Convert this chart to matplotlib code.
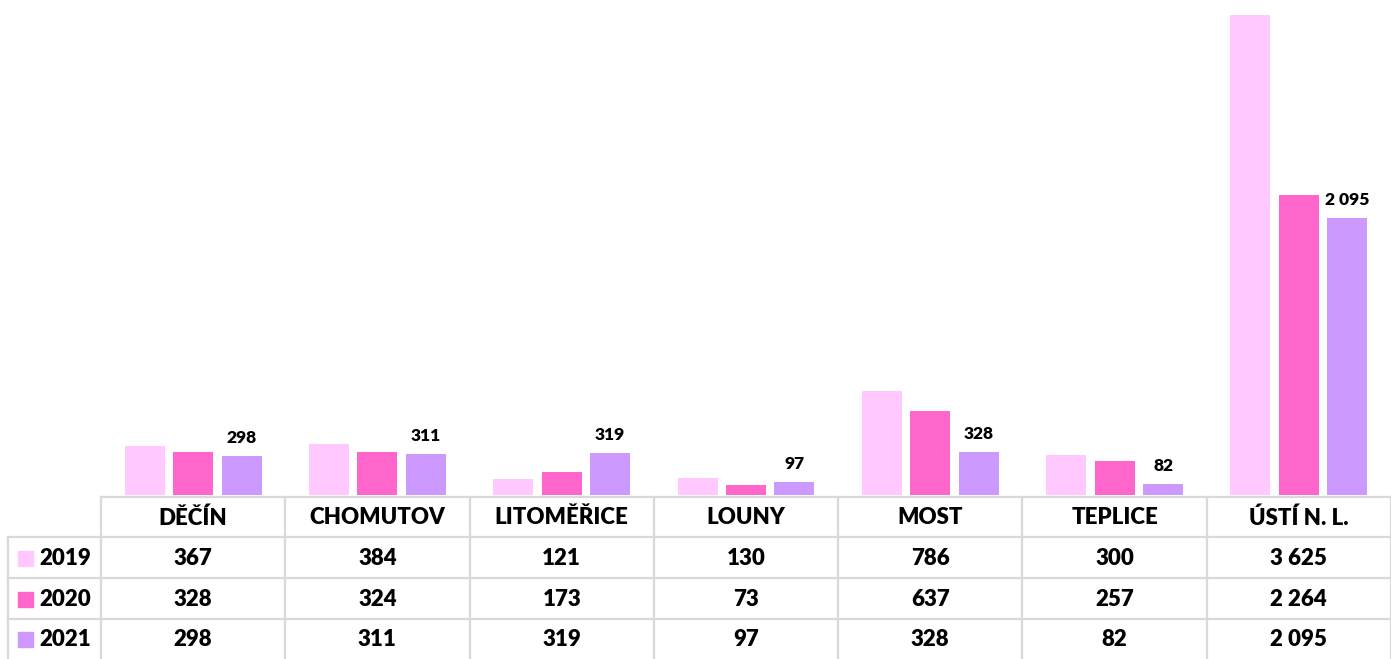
import matplotlib
matplotlib.use("Agg")
import matplotlib.pyplot as plt
import numpy as np
from matplotlib.patches import Rectangle

categories = ["DĚČÍN", "CHOMUTOV", "LITOMĚŘICE", "LOUNY", "MOST", "TEPLICE", "ÚSTÍ N. L."]
years = ["2019", "2020", "2021"]
v2019 = [367, 384, 121, 130, 786, 300, 3625]
v2020 = [328, 324, 173, 73, 637, 257, 2264]
v2021 = [298, 311, 319, 97, 328, 82, 2095]
series = [v2019, v2020, v2021]
colors = ["#FFC9FF", "#FF66CC", "#CC99FF"]

def fmt(v):
    return f"{v:,}".replace(",", " ")

plt.rcParams['font.family'] = ['Lato', 'DejaVu Sans']
WT = 800
FS = 16

W, H = 1391, 659
fig = plt.figure(figsize=(W/100, H/100), dpi=100)

left_px, base_px = 101, 495
ax = fig.add_axes([left_px/W, (H-base_px)/H, 1-left_px/W, base_px/H])
x = np.arange(len(categories))
bw = 0.217
step = 0.263
for k, (vals, c) in enumerate(zip(series, colors)):
    ax.bar(x + (k-1)*step, vals, width=bw, color=c, zorder=2)
for xi, v in zip(x, v2021):
    ax.annotate(fmt(v), (xi + step, v), xytext=(0, 7), textcoords="offset points",
                ha="center", va="bottom", fontsize=12.5, fontweight=WT, color="#000000")
ax.set_xlim(-0.5, len(categories)-0.5)
ax.set_ylim(0, 3738)
ax.axis("off")

# table
tax = fig.add_axes([0, 0, 1, 1])
tax.set_xlim(0, W)
tax.set_ylim(H, 0)
tax.axis("off")
gc = "#D9D9D9"
lw = 1.6
colw = (W - left_px) / len(categories)
rows_y = [497, 537, 578, 619, 659]
tax.plot([left_px, W], [rows_y[0]]*2, color=gc, lw=lw)
for yy in rows_y[1:4]:
    tax.plot([8, W], [yy]*2, color=gc, lw=lw)
tax.plot([8, 8], [rows_y[1], H], color=gc, lw=lw)
for i in range(len(categories)+1):
    xx = left_px + i*colw
    tax.plot([xx, xx], [rows_y[0], H], color=gc, lw=lw)
for i, cat in enumerate(categories):
    cx = left_px + (i+0.5)*colw
    tax.text(cx, (rows_y[0]+rows_y[1])/2 + 1, cat, ha="center", va="center",
             fontsize=FS, fontweight=WT, color="#000000")
for r, (yr, vals, c) in enumerate(zip(years, series, colors)):
    cy = (rows_y[r+1] + rows_y[r+2]) / 2 + 1
    tax.add_patch(Rectangle((18, cy-8), 15, 15, color=c))
    tax.text(39, cy, yr, ha="left", va="center", fontsize=FS, fontweight=WT, color="#000000")
    for i, v in enumerate(vals):
        cx = left_px + (i+0.5)*colw
        tax.text(cx, cy, fmt(v), ha="center", va="center", fontsize=FS,
                 fontweight=WT, color="#000000")

fig.savefig("out.png", dpi=100)
